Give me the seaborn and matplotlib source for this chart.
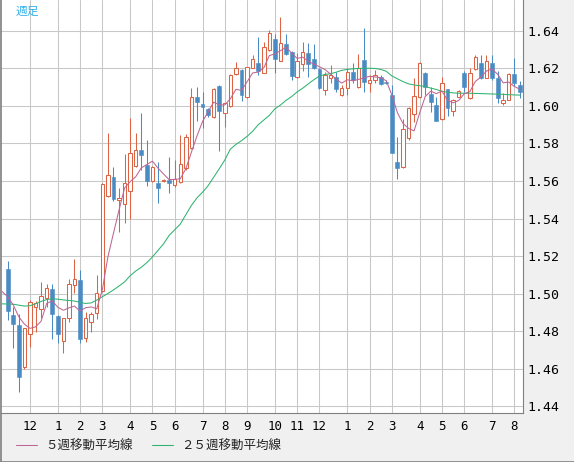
"""Weekly candlestick chart with 5-week and 25-week moving averages."""

import numpy as np
import pandas as pd
import matplotlib
import matplotlib.pyplot as plt
from matplotlib.lines import Line2D
import seaborn as sns

matplotlib.use("Agg")

UP_COLOR = "#dc6445"
DOWN_COLOR = "#4b8bc4"
MA5_COLOR = "#bf6593"
MA25_COLOR = "#2eb36f"
GRID_COLOR = "#c8c8c8"
PANEL_BG = "#f0f0f0"
FRAME_COLOR = "#808080"
LW = 0.75  # about one pixel at 100 dpi

# weekly OHLC, oldest first
opens = [
    1.5131, 1.4885, 1.4832, 1.4610, 1.4782, 1.4930, 1.4916, 1.4974, 1.5022, 1.4880,
    1.4748, 1.4868, 1.5044, 1.5072, 1.4761, 1.4846, 1.4894, 1.5015, 1.5520, 1.5620,
    1.5499, 1.5476, 1.5548, 1.5682, 1.5765, 1.5685, 1.5600, 1.5588, 1.5600, 1.5605,
    1.5579, 1.5593, 1.5668, 1.5774, 1.6046, 1.6011, 1.5982, 1.5943, 1.6107, 1.5964,
    1.6002, 1.6169, 1.6192, 1.6050, 1.6204, 1.6231, 1.6178, 1.6299, 1.6356, 1.6242,
    1.6331, 1.6290, 1.6153, 1.6224, 1.6284, 1.6249, 1.6196, 1.6087, 1.6147, 1.6153,
    1.6059, 1.6098, 1.6183, 1.6100, 1.6245, 1.6121, 1.6139, 1.6153, 1.6130, 1.6059,
    1.5703, 1.5673, 1.5828, 1.5957, 1.6046, 1.6174, 1.6062, 1.6005, 1.5929, 1.6089,
    1.5973, 1.6050, 1.6178, 1.6041, 1.6196, 1.6231, 1.6151, 1.6230, 1.6150, 1.6014,
    1.6032, 1.6171, 1.6112,
]
highs = [
    1.5173, 1.4930, 1.4889, 1.4816, 1.4965, 1.4962, 1.5060, 1.5051, 1.5049, 1.4885,
    1.4870, 1.5076, 1.5182, 1.5125, 1.4900, 1.4903, 1.5099, 1.5590, 1.5858, 1.5676,
    1.5561, 1.5744, 1.5938, 1.5858, 1.5964, 1.5819, 1.5680, 1.5703, 1.5610, 1.5730,
    1.5712, 1.5845, 1.5852, 1.6094, 1.6100, 1.6077, 1.5990, 1.6095, 1.6110, 1.6016,
    1.6170, 1.6236, 1.6195, 1.6210, 1.6272, 1.6366, 1.6343, 1.6405, 1.6382, 1.6473,
    1.6382, 1.6295, 1.6281, 1.6340, 1.6334, 1.6330, 1.6200, 1.6183, 1.6219, 1.6183,
    1.6110, 1.6200, 1.6231, 1.6277, 1.6414, 1.6165, 1.6192, 1.6165, 1.6138, 1.6112,
    1.5836, 1.5929, 1.5995, 1.6148, 1.6235, 1.6180, 1.6103, 1.6050, 1.6156, 1.6092,
    1.6035, 1.6085, 1.6188, 1.6201, 1.6272, 1.6272, 1.6272, 1.6272, 1.6185, 1.6068,
    1.6175, 1.6254, 1.6135,
]
lows = [
    1.4859, 1.4711, 1.4476, 1.4596, 1.4716, 1.4796, 1.4868, 1.4926, 1.4759, 1.4738,
    1.4681, 1.4850, 1.5001, 1.4738, 1.4743, 1.4796, 1.4864, 1.5010, 1.5515, 1.5493,
    1.5330, 1.5378, 1.5396, 1.5673, 1.5659, 1.5573, 1.5597, 1.5481, 1.5597, 1.5534,
    1.5566, 1.5590, 1.5659, 1.5771, 1.5922, 1.5881, 1.5940, 1.5935, 1.5762, 1.5890,
    1.5995, 1.6165, 1.6028, 1.6045, 1.6200, 1.6165, 1.6175, 1.6295, 1.6174, 1.6238,
    1.6270, 1.6139, 1.6148, 1.6185, 1.6156, 1.6196, 1.6089, 1.6059, 1.6121, 1.6076,
    1.6055, 1.6059, 1.6121, 1.6095, 1.6076, 1.6076, 1.6121, 1.6110, 1.6115, 1.5751,
    1.5609, 1.5670, 1.5820, 1.5916, 1.6040, 1.6059, 1.5970, 1.5922, 1.5925, 1.5947,
    1.5947, 1.6048, 1.6075, 1.6038, 1.6192, 1.6145, 1.6148, 1.6141, 1.6015, 1.6005,
    1.6030, 1.6108, 1.6045,
]
closes = [
    1.4908, 1.4837, 1.4556, 1.4814, 1.4956, 1.4948, 1.4987, 1.5028, 1.4889, 1.4782,
    1.4868, 1.5051, 1.5076, 1.4756, 1.4871, 1.4889, 1.5001, 1.5582, 1.5632, 1.5504,
    1.5509, 1.5588, 1.5748, 1.5765, 1.5739, 1.5600, 1.5676, 1.5564, 1.5607, 1.5588,
    1.5609, 1.5691, 1.5833, 1.6046, 1.6020, 1.5996, 1.5952, 1.6089, 1.5975, 1.6014,
    1.6165, 1.6201, 1.6059, 1.6206, 1.6249, 1.6188, 1.6313, 1.6388, 1.6249, 1.6338,
    1.6277, 1.6160, 1.6242, 1.6286, 1.6224, 1.6201, 1.6094, 1.6165, 1.6165, 1.6091,
    1.6094, 1.6183, 1.6139, 1.6201, 1.6130, 1.6139, 1.6165, 1.6117, 1.6121, 1.5751,
    1.5668, 1.5876, 1.5988, 1.6053, 1.6231, 1.6103, 1.6020, 1.5922, 1.6121, 1.5988,
    1.6032, 1.6082, 1.6100, 1.6178, 1.6263, 1.6148, 1.6242, 1.6150, 1.6045, 1.6030,
    1.6171, 1.6124, 1.6076,
]

# moving averages for weeks -1..3 (history before the window)
ma5_head = [1.5010, 1.4983, 1.4939, 1.4876, 1.4837]
# 25-week average, weeks -1..92
ma25 = [
    1.4945,
    1.4944, 1.4943, 1.4938, 1.4933, 1.4935, 1.4945, 1.4958, 1.4968, 1.4972, 1.4970,
    1.4966, 1.4963, 1.4960, 1.4953, 1.4947, 1.4950, 1.4965, 1.4983, 1.5000, 1.5019,
    1.5040, 1.5062, 1.5095, 1.5120, 1.5140, 1.5165, 1.5195, 1.5230, 1.5265, 1.5310,
    1.5340, 1.5370, 1.5420, 1.5470, 1.5510, 1.5540, 1.5575, 1.5620, 1.5665, 1.5712,
    1.5770, 1.5795, 1.5815, 1.5838, 1.5865, 1.5900, 1.5925, 1.5950, 1.5985, 1.6005,
    1.6030, 1.6050, 1.6075, 1.6095, 1.6118, 1.6140, 1.6160, 1.6168, 1.6172, 1.6180,
    1.6190, 1.6195, 1.6198, 1.6200, 1.6201, 1.6201, 1.6200, 1.6195, 1.6185, 1.6160,
    1.6145, 1.6130, 1.6118, 1.6112, 1.6108, 1.6104, 1.6095, 1.6088, 1.6078, 1.6073,
    1.6070, 1.6068, 1.6068, 1.6068, 1.6067, 1.6066, 1.6065, 1.6064, 1.6063, 1.6062,
    1.6060, 1.6059, 1.6058,
]

month_pos = [4, 9, 13, 17, 22, 26, 30, 35, 39, 43, 48, 52, 56, 61, 65, 69, 74, 78, 82, 87, 91]
month_labels = ["12", "1", "2", "3", "4", "5", "6", "7", "8", "9", "10",
                "11", "12", "1", "2", "3", "4", "5", "6", "7", "8"]
price_ticks = [1.44, 1.46, 1.48, 1.50, 1.52, 1.54, 1.56, 1.58, 1.60, 1.62, 1.64]

W, H = 574, 462


def build_frame() -> pd.DataFrame:
    df = pd.DataFrame({"open": opens, "high": highs, "low": lows, "close": closes})
    df["week"] = np.arange(len(df))
    return df


def build_ma(df: pd.DataFrame) -> pd.DataFrame:
    ma5 = df["close"].rolling(5).mean().to_numpy()
    ma5_full = np.concatenate([ma5_head, ma5[4:]])
    return pd.DataFrame({"week": np.arange(-1, len(df)), "ma5": ma5_full, "ma25": ma25})


def draw_candles(ax, df: pd.DataFrame) -> None:
    up = df[df["close"] >= df["open"]]
    down = df[df["close"] < df["open"]]
    ax.vlines(up["week"], up["low"], up["high"], color=UP_COLOR, lw=LW, zorder=3)
    ax.vlines(down["week"], down["low"], down["high"], color=DOWN_COLOR, lw=LW, zorder=3)
    up_h = np.maximum(up["close"] - up["open"], 0.0004)
    down_h = np.maximum(down["open"] - down["close"], 0.0004)
    ax.bar(up["week"], up_h, bottom=up["open"], width=0.62, facecolor="white",
           edgecolor=UP_COLOR, linewidth=LW, zorder=4)
    ax.bar(down["week"], down_h, bottom=down["close"], width=0.7, facecolor=DOWN_COLOR,
           edgecolor=DOWN_COLOR, linewidth=0.4, zorder=4)


def main() -> None:
    sns.set_theme(style="white")
    plt.rcParams["font.family"] = ["DejaVu Sans Mono", "Noto Sans CJK JP"]

    df = build_frame()
    ma = build_ma(df)

    fig = plt.figure(figsize=(W / 100, H / 100), dpi=100, facecolor=PANEL_BG)
    ax = fig.add_axes([1 / W, (H - 413) / H, 522 / W, 413 / H])
    ax.set_facecolor("white")

    draw_candles(ax, df)
    sns.lineplot(data=ma, x="week", y="ma25", ax=ax, color=MA25_COLOR, lw=LW,
                 estimator=None, zorder=5, legend=False)
    sns.lineplot(data=ma, x="week", y="ma5", ax=ax, color=MA5_COLOR, lw=LW,
                 estimator=None, zorder=6, legend=False)

    ax.set_xlim(-1.2, 92.56)
    ax.set_ylim(1.4363, 1.6565)
    ax.set_xticks(month_pos)
    ax.set_xticklabels(month_labels)
    ax.set_yticks(price_ticks)
    ax.set_yticklabels([f"{v:.2f}" for v in price_ticks])
    ax.yaxis.tick_right()
    ax.tick_params(axis="x", length=0, pad=5, labelsize=9, colors="black")
    ax.tick_params(axis="y", length=0, pad=3, labelsize=9.5, colors="black")
    ax.set_xlabel("")
    ax.set_ylabel("")
    ax.grid(True, color=GRID_COLOR, lw=LW, zorder=0)
    ax.set_axisbelow(True)
    for side in ["left", "top"]:
        ax.spines[side].set_visible(False)
    for side in ["right", "bottom"]:
        ax.spines[side].set_color(FRAME_COLOR)
        ax.spines[side].set_linewidth(0.8)

    ax.text(15 / 522, 1 - 11 / 413, "週足", transform=ax.transAxes, color="#33b0e8",
            fontsize=8.5, family=["Noto Sans CJK JP", "DejaVu Sans"], va="center", ha="left")

    # outer frame (left and bottom edges of the panel)
    fig.add_artist(Line2D([0.5 / W, 0.5 / W], [0, 1], color=FRAME_COLOR, lw=1.2))
    fig.add_artist(Line2D([0, 1], [0.5 / H, 0.5 / H], color=FRAME_COLOR, lw=1.2))

    handles = [Line2D([], [], color=MA5_COLOR, lw=LW),
               Line2D([], [], color=MA25_COLOR, lw=LW)]
    fig.legend(handles, ["５週移動平均線", "２５週移動平均線"], loc="center left",
               bbox_to_anchor=(16 / W, 1 - 446 / H), ncol=2, frameon=False,
               borderpad=0, borderaxespad=0, handlelength=1.7, handletextpad=0.65,
               columnspacing=1.5,
               prop={"family": ["Noto Sans CJK JP", "DejaVu Sans"], "size": 9})
    for t in fig.legends[0].get_texts():
        t.set_color("#222222")

    fig.savefig("out.png", dpi=100, facecolor=PANEL_BG)
    plt.close(fig)


if __name__ == "__main__":
    main()
